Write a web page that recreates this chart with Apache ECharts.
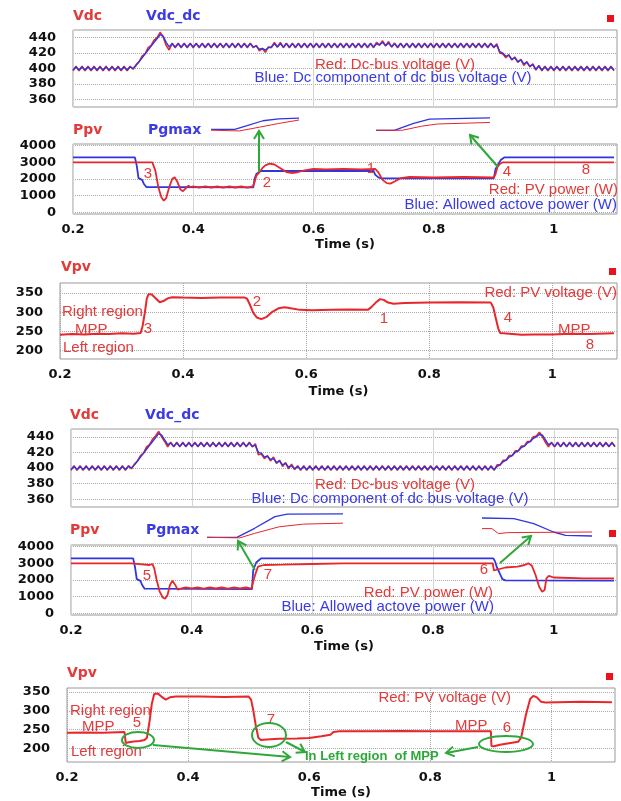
<!DOCTYPE html>
<html><head><meta charset="utf-8">
<script src="https://cdn.jsdelivr.net/npm/echarts@6/dist/echarts.min.js"></script>
<style>html,body{margin:0;padding:0;background:#fff}#c{width:621px;height:801px}</style>
</head><body><div id="c"></div>
<script>
// ---------- tick labels ----------
const xTicks = [0.2, 0.4, 0.6, 0.8, 1];
const vdcTicks = [360, 380, 400, 420, 440];
const ppvTicks = [0, 1000, 2000, 3000, 4000];
const vpvTicks = [200, 250, 300, 350];

// ---------- DC bus voltage samples (time, s) ----------
const vdcT = [
0.2,0.205,0.21,0.215,0.22,0.225,0.23,0.235,0.24,0.245,0.25,0.255,0.26,0.265,0.27,0.275,0.28,0.285,0.29,0.295,
0.3,0.305,0.31,0.315,0.32,0.325,0.33,0.335,0.34,0.345,0.35,0.355,0.36,0.365,0.37,0.375,0.38,0.385,0.39,0.395,
0.4,0.405,0.41,0.415,0.42,0.425,0.43,0.435,0.44,0.445,0.45,0.455,0.46,0.465,0.47,0.475,0.48,0.485,0.49,0.495,
0.5,0.505,0.51,0.515,0.52,0.525,0.53,0.535,0.54,0.545,0.55,0.555,0.56,0.565,0.57,0.575,0.58,0.585,0.59,0.595,
0.6,0.605,0.61,0.615,0.62,0.625,0.63,0.635,0.64,0.645,0.65,0.655,0.66,0.665,0.67,0.675,0.68,0.685,0.69,0.695,
0.7,0.705,0.71,0.715,0.72,0.725,0.73,0.735,0.74,0.745,0.75,0.755,0.76,0.765,0.77,0.775,0.78,0.785,0.79,0.795,
0.8,0.805,0.81,0.815,0.82,0.825,0.83,0.835,0.84,0.845,0.85,0.855,0.86,0.865,0.87,0.875,0.88,0.885,0.89,0.895,
0.9,0.905,0.91,0.915,0.92,0.925,0.93,0.935,0.94,0.945,0.95,0.955,0.96,0.965,0.97,0.975,0.98,0.985,0.99,0.995,
1,1.005,1.01,1.015,1.02,1.025,1.03,1.035,1.04,1.045,1.05,1.055,1.06,1.065,1.07,1.075,1.08,1.085,1.09,1.095,
1.1];
// upper figure
const vdc1Red = [
397,403,397,403,397,403,397,403,397,403,397,403,397,403,397,403,397,403,397,403,
399,405,409,416,419,427,430,437,440,447,441,430,424,433,427,433,427,433,427,433,
427,433,427,433,427,433,427,433,427,433,427,433,427,433,427,433,427,433,427,433,
427,430,423,426,421,428,427,434,428,434,427,433,427,433,427,433,427,433,427,433,
427,433,427,433,427,433,427,433,427,433,427,433,427,433,427,433,427,433,427,433,
427,434,430,436,429,435,428,433,427,433,427,433,427,433,427,433,427,433,427,433,
427,433,427,433,427,433,427,433,427,433,427,433,427,433,427,433,427,433,427,433,
427,432,420,419,414,418,411,415,408,412,404,409,402,406,398,404,397,403,397,403,
397,403,397,403,397,403,397,403,397,403,397,403,397,403,397,403,397,403,397,403,
397];
const vdc1Blue = [
398,402,398,402,398,402,398,402,398,402,398,402,398,402,398,402,398,402,398,402,
400,404,409,414,419,424,429,434,439,444,442,434,428,432,428,432,428,432,428,432,
428,432,428,432,428,432,428,432,428,432,428,432,428,432,428,432,428,432,428,432,
428,429,425,426,424,427,428,432,428,432,428,432,428,432,428,432,428,432,428,432,
428,432,428,432,428,432,428,432,428,432,428,432,428,432,428,432,428,432,428,432,
428,432,431,434,430,433,428,432,428,432,428,432,428,432,428,432,428,432,428,432,
428,432,428,432,428,432,428,432,428,432,428,432,428,432,428,432,428,432,428,432,
428,430,422,420,416,417,412,414,409,411,406,408,403,405,399,403,398,402,398,402,
398,402,398,402,398,402,398,402,398,402,398,402,398,402,398,402,398,402,398,402,
398];
// lower figure
const vdc2Red = [
397,403,397,403,397,403,397,403,397,403,397,403,397,403,397,403,397,403,397,403,
399,405,409,416,419,427,430,437,441,447,440,434,427,433,427,433,427,433,427,433,
427,433,427,433,427,433,427,433,427,433,427,433,427,433,427,433,427,433,427,433,
427,431,417,418,412,416,409,414,406,410,402,407,399,405,398,403,397,403,397,403,
397,403,397,403,397,403,397,403,397,403,397,403,397,403,397,403,397,403,397,403,
397,403,397,403,397,403,397,403,397,403,397,403,397,403,397,403,397,403,397,403,
397,403,397,403,397,403,397,403,397,403,397,403,397,403,397,403,397,403,397,403,
397,404,404,410,410,416,416,422,422,428,428,434,434,440,441,446,440,433,427,433,
427,433,427,433,427,433,427,433,427,433,427,433,427,433,427,433,427,433,427,433,
427];
const vdc2Blue = [
398,402,398,402,398,402,398,402,398,402,398,402,398,402,398,402,398,402,398,402,
400,404,409,414,419,424,429,434,439,444,442,436,430,432,428,432,428,432,428,432,
428,432,428,432,428,432,428,432,428,432,428,432,428,432,428,432,428,432,428,432,
428,429,420,419,414,415,411,412,407,409,404,406,401,403,399,402,398,402,398,402,
398,402,398,402,398,402,398,402,398,402,398,402,398,402,398,402,398,402,398,402,
398,402,398,402,398,402,398,402,398,402,398,402,398,402,398,402,398,402,398,402,
398,402,398,402,398,402,398,402,398,402,398,402,398,402,398,402,398,402,398,402,
398,402,404,408,410,414,416,420,422,426,428,432,434,438,440,443,442,436,430,432,
428,432,428,432,428,432,428,432,428,432,428,432,428,432,428,432,428,432,428,432,
428];

// ---------- PV power / allowed power [time, W] ----------
const ppv1Red = [[0.2,3000],[0.332,3000],[0.337,2500],[0.342,1500],[0.347,900],[0.351,700],[0.355,850],[0.36,1500],[0.365,2000],[0.369,2100],[0.374,1800],[0.379,1350],[0.383,1270],[0.388,1450],[0.392,1600],[0.396,1520],[0.4,1560],[0.41,1480],[0.42,1560],[0.43,1490],[0.44,1550],[0.45,1480],[0.46,1560],[0.47,1490],[0.48,1550],[0.49,1480],[0.499,1550],[0.502,1800],[0.505,2200],[0.51,2400],[0.515,2650],[0.52,2820],[0.527,2920],[0.535,2870],[0.545,2650],[0.555,2420],[0.565,2350],[0.575,2420],[0.585,2520],[0.6,2600],[0.62,2580],[0.65,2610],[0.68,2580],[0.703,2600],[0.708,2400],[0.715,1950],[0.722,1750],[0.728,1720],[0.735,1850],[0.745,2050],[0.76,2120],[0.8,2090],[0.85,2120],[0.9,2090],[0.903,2300],[0.906,2700],[0.91,2900],[0.915,3000],[1.1,3000]];
const ppv1Blue = [[0.2,3300],[0.303,3300],[0.306,2800],[0.309,2050],[0.315,1950],[0.318,1700],[0.322,1520],[0.5,1500],[0.502,2000],[0.505,2300],[0.512,2480],[0.7,2480],[0.703,2250],[0.708,2100],[0.713,2040],[0.9,2040],[0.903,2600],[0.907,2850],[0.912,3150],[0.918,3300],[1.1,3300]];
const ppv2Red = [[0.2,3000],[0.3,3000],[0.302,2900],[0.33,2900],[0.335,2950],[0.338,2700],[0.342,2000],[0.347,1300],[0.352,950],[0.356,880],[0.36,1100],[0.364,1700],[0.368,1950],[0.372,1750],[0.377,1420],[0.382,1480],[0.39,1560],[0.4,1500],[0.41,1550],[0.42,1480],[0.43,1560],[0.44,1490],[0.45,1550],[0.46,1480],[0.47,1560],[0.48,1490],[0.49,1550],[0.499,1480],[0.502,1900],[0.506,2400],[0.51,2800],[0.52,2900],[0.55,2920],[0.6,2960],[0.65,3000],[0.899,3000],[0.901,2570],[0.904,2680],[0.92,2750],[0.94,2800],[0.952,2900],[0.958,3000],[0.964,2850],[0.97,2300],[0.976,1600],[0.981,1300],[0.985,1400],[0.988,2100],[0.992,2250],[1,2150],[1.05,2100],[1.1,2100]];
const ppv2Blue = [[0.2,3300],[0.303,3300],[0.306,2800],[0.309,2050],[0.315,1950],[0.318,1700],[0.322,1480],[0.5,1450],[0.502,2600],[0.507,3050],[0.515,3300],[0.9,3300],[0.903,3100],[0.906,2750],[0.91,2450],[0.915,2050],[0.92,1980],[1.1,1960]];

// ---------- PV voltage [time, V] ----------
const vpv1 = [[0.2,241],[0.22,243],[0.24,242],[0.26,244],[0.28,243],[0.3,245],[0.32,244],[0.331,246],[0.334,262],[0.338,300],[0.341,335],[0.344,347],[0.349,346],[0.355,337],[0.362,326],[0.368,329],[0.375,336],[0.382,339],[0.4,338],[0.43,337],[0.46,338],[0.5,338],[0.504,335],[0.509,318],[0.514,298],[0.52,286],[0.527,282],[0.535,287],[0.545,301],[0.555,310],[0.565,313],[0.575,310],[0.59,306],[0.61,305],[0.64,306],[0.67,307],[0.7,306],[0.706,313],[0.713,325],[0.72,334],[0.726,332],[0.733,325],[0.742,322],[0.76,324],[0.8,325],[0.85,326],[0.9,325],[0.904,312],[0.908,285],[0.912,258],[0.915,246],[0.93,244],[0.95,241],[0.97,242],[1,242],[1.03,244],[1.06,243],[1.1,245]];
const vpv2 = [[0.2,241],[0.23,242],[0.26,241],[0.295,243],[0.297,214],[0.302,216],[0.31,218],[0.32,219],[0.328,222],[0.332,228],[0.336,268],[0.34,318],[0.344,345],[0.35,346],[0.356,338],[0.363,330],[0.37,336],[0.38,338],[0.42,338],[0.46,337],[0.5,338],[0.504,330],[0.508,298],[0.512,258],[0.516,228],[0.52,222],[0.53,223],[0.55,225],[0.58,226],[0.6,227],[0.62,232],[0.635,236],[0.64,243],[0.65,245],[0.7,245],[0.75,246],[0.8,245],[0.85,245],[0.9,245],[0.901,206],[0.905,205],[0.915,209],[0.93,213],[0.945,217],[0.95,228],[0.958,290],[0.965,332],[0.97,340],[0.976,336],[0.983,324],[0.99,322],[1.05,324],[1.1,323]];

// ---------- zoomed insets (local 0-100 units) ----------
const ins1Blue = [[0,17],[27,17],[41,42],[59,75],[77,87],[100,93]];
const ins1Red  = [[0,12],[32,7],[55,32],[77,57],[100,80]];
const ins2Blue = [[0,16],[16,16],[33,56],[47,82],[100,89]];
const ins2Red  = [[0,16],[23,16],[40,40],[54,53],[100,62]];
const ins3Blue = [[0,9],[22,9],[35,39],[50,78],[59,86],[100,87]];
const ins3Red  = [[0,9],[24,7],[35,22],[53,44],[71,53],[100,56]];
const ins4Blue = [[0,95],[29,92],[47,67],[65,25],[76,8],[100,5]];
const ins4Red  = [[0,42],[9,42],[15,17],[24,22],[100,25]];

// ---------- styles ----------
const RED = '#e8262b', BLUE = '#2f36e0', GREEN = '#2fa83a';
const TXTRED = '#e33a3a', TXTBLUE = '#3a3ae6';
const LBL = {color:'#111', fontWeight:'bold', fontSize:13, fontFamily:'DejaVu Sans'};

const grids = [
  {left:73, top:30, width:544, height:77},
  {left:73, top:144, width:544, height:70},
  {left:60, top:283, width:557, height:76},
  {left:71, top:429, width:547, height:78},
  {left:71, top:545, width:546, height:70},
  {left:67, top:688, width:548, height:74},
  {left:211, top:117, width:88, height:15},
  {left:376, top:116, width:114, height:17},
  {left:207, top:510, width:136, height:30},
  {left:482, top:517, width:110, height:20}
].map((g,i)=> i<6 ? Object.assign({show:true, borderColor:'#9a9a9a', borderWidth:1, backgroundColor:'#fff'}, g) : Object.assign({show:false}, g));

function xAx(gi, labels, dotted, gap){
  return {type:'value', gridIndex:gi, min:0.2, max:1.105,
    axisLine:{show:false}, axisTick:{show:false, customValues:xTicks},
    axisLabel:Object.assign({show:labels, customValues:xTicks, margin:9, formatter:v=>String(v)}, LBL),
    splitLine:{show:true, lineStyle:{color: dotted?'#a8a8a8':'#d4d4d4', type: dotted?'dotted':'solid', width:1}},
    name: labels?'Time (s)':'', nameLocation:'middle', nameGap:gap||25,
    nameTextStyle:{color:'#111', fontWeight:'bold', fontSize:13, fontFamily:'DejaVu Sans'}};
}
function yAx(gi, min, max, ticks){
  return {type:'value', gridIndex:gi, min:min, max:max,
    axisLine:{show:false}, axisTick:{show:false, customValues:ticks},
    axisLabel:Object.assign({customValues:ticks, margin:17, formatter:v=>String(v)}, LBL),
    splitLine:{show:true, lineStyle:{color:'#a8a8a8', type:'dotted', width:1}}};
}
function insX(gi){ return {type:'value', gridIndex:gi, min:0, max:100, show:false}; }
function insY(gi){ return {type:'value', gridIndex:gi, min:0, max:100, show:false}; }

const xAxes = [xAx(0,false,false), xAx(1,true,false,24), xAx(2,true,true,26), xAx(3,false,false), xAx(4,true,false,25), xAx(5,true,true,24),
  insX(6), insX(7), insX(8), insX(9)];
const yAxes = [yAx(0,350,450,vdcTicks), yAx(1,-100,4100,ppvTicks), yAx(2,178,376,vpvTicks),
  yAx(3,350,450,vdcTicks), yAx(4,-100,4100,ppvTicks), yAx(5,163,361,vpvTicks),
  insY(6), insY(7), insY(8), insY(9)];

const zip = (ts, vs) => ts.map((t,i)=>[t, vs[i]]);
function ln(idx, data, color, w){
  return {type:'line', xAxisIndex:idx, yAxisIndex:idx, data:data, showSymbol:false, symbol:'none',
    lineStyle:{color:color, width:w}, itemStyle:{color:color}, animation:false, silent:true};
}
const series = [
  ln(0, zip(vdcT, vdc1Red), RED, 1.6), ln(0, zip(vdcT, vdc1Blue), BLUE, 1.4),
  ln(1, ppv1Blue, BLUE, 1.8), ln(1, ppv1Red, RED, 1.8),
  ln(2, vpv1, RED, 2),
  ln(3, zip(vdcT, vdc2Red), RED, 1.6), ln(3, zip(vdcT, vdc2Blue), BLUE, 1.4),
  ln(4, ppv2Blue, BLUE, 1.8), ln(4, ppv2Red, RED, 1.8),
  ln(5, vpv2, RED, 2),
  ln(6, ins1Blue, BLUE, 1.3), ln(6, ins1Red, RED, 1),
  ln(7, ins2Blue, BLUE, 1.3), ln(7, ins2Red, RED, 1),
  ln(8, ins3Blue, BLUE, 1.3), ln(8, ins3Red, RED, 1),
  ln(9, ins4Blue, BLUE, 1.3), ln(9, ins4Red, RED, 1)
];

// ---------- annotations ----------
const F = '15px "Liberation Sans", Arial, sans-serif';
const FT = 'bold 14px "DejaVu Sans", Verdana, sans-serif';
function txt(x, y, s, color, font, align){
  return {type:'text', x:x, y:y, z:100, silent:true,
    style:{text:s, fill:color, font:font||F, align:align||'left', verticalAlign:'middle'}};
}
function sq(x, y){ return {type:'rect', z:100, shape:{x:x, y:y, width:7, height:7}, style:{fill:'#e8131b'}}; }
function arrow(x1, y1, x2, y2){
  const a = Math.atan2(y2-y1, x2-x1), L = 8, W = 5;
  const bx = x2 - L*Math.cos(a), by = y2 - L*Math.sin(a);
  return [
    {type:'line', z:100, shape:{x1:x1, y1:y1, x2:x2, y2:y2}, style:{stroke:GREEN, lineWidth:2}},
    {type:'polyline', z:100, shape:{points:[[bx + W*Math.sin(a), by - W*Math.cos(a)], [x2, y2], [bx - W*Math.sin(a), by + W*Math.cos(a)]]},
      style:{stroke:GREEN, lineWidth:2, fill:null}}
  ];
}
function ell(cx, cy, rx, ry){ return {type:'ellipse', z:100, shape:{cx:cx, cy:cy, rx:rx, ry:ry}, style:{stroke:GREEN, lineWidth:2, fill:null}}; }

const graphic = [
  // panel 1
  txt(73, 16, 'Vdc', TXTRED, FT), txt(146, 16, 'Vdc_dc', TXTBLUE, FT), sq(607, 15),
  txt(395, 65, 'Red: Dc-bus voltage (V)', TXTRED, F, 'center'),
  txt(393, 78, 'Blue: Dc component of dc bus voltage (V)', TXTBLUE, F, 'center'),
  // panel 2
  txt(73, 130, 'Ppv', TXTRED, FT), txt(148, 130, 'Pgmax', TXTBLUE, FT),
  txt(618, 190, 'Red: PV power (W)', TXTRED, F, 'right'),
  txt(617, 205, 'Blue: Allowed actove power (W)', TXTBLUE, F, 'right'),
  txt(148, 174, '3', TXTRED, F, 'center'), txt(267, 183, '2', TXTRED, F, 'center'),
  txt(371, 169, '1', TXTRED, F, 'center'), txt(507, 172, '4', TXTRED, F, 'center'),
  txt(586, 170, '8', TXTRED, F, 'center'),
  ...arrow(259, 172, 259, 131), ...arrow(498, 167, 470, 135),
  // panel 3
  txt(61, 267, 'Vpv', TXTRED, FT), sq(609, 268),
  txt(617, 293, 'Red: PV voltage (V)', TXTRED, F, 'right'),
  txt(62, 312, 'Right region', TXTRED), txt(75, 330, 'MPP', TXTRED), txt(63, 348, 'Left region', TXTRED),
  txt(148, 329, '3', TXTRED, F, 'center'), txt(257, 302, '2', TXTRED, F, 'center'),
  txt(384, 319, '1', TXTRED, F, 'center'), txt(508, 318, '4', TXTRED, F, 'center'),
  txt(558, 330, 'MPP', TXTRED), txt(590, 345, '8', TXTRED, F, 'center'),
  // panel 4
  txt(70, 415, 'Vdc', TXTRED, FT), txt(145, 415, 'Vdc_dc', TXTBLUE, FT),
  txt(395, 485, 'Red: Dc-bus voltage (V)', TXTRED, F, 'center'),
  txt(390, 499, 'Blue: Dc component of dc bus voltage (V)', TXTBLUE, F, 'center'),
  // panel 5
  txt(70, 530, 'Ppv', TXTRED, FT), txt(146, 530, 'Pgmax', TXTBLUE, FT), sq(609, 530),
  txt(493, 593, 'Red: PV power (W)', TXTRED, F, 'right'),
  txt(494, 607, 'Blue: Allowed actove power (W)', TXTBLUE, F, 'right'),
  txt(147, 576, '5', TXTRED, F, 'center'), txt(268, 575, '7', TXTRED, F, 'center'),
  txt(484, 570, '6', TXTRED, F, 'center'),
  ...arrow(255, 570, 238, 541), ...arrow(500, 563, 531, 536),
  // panel 6
  txt(67, 673, 'Vpv', TXTRED, FT), sq(606, 673),
  txt(511, 698, 'Red: PV voltage (V)', TXTRED, F, 'right'),
  txt(70, 711, 'Right region', TXTRED), txt(82, 727, 'MPP', TXTRED), txt(71, 752, 'Left region', TXTRED),
  txt(137, 723, '5', TXTRED, F, 'center'), txt(271, 720, '7', TXTRED, F, 'center'),
  txt(455, 726, 'MPP', TXTRED), txt(507, 728, '6', TXTRED, F, 'center'),
  ell(138, 740, 16, 8), ell(269, 735, 17, 12), ell(506, 744, 27, 8),
  ...arrow(153, 745, 290, 757), ...arrow(286, 742, 305, 752), ...arrow(478, 747, 446, 753),
  txt(305, 756, 'In Left region  of MPP', GREEN, 'bold 13px "Liberation Sans", Arial, sans-serif')
];

const chart = echarts.init(document.getElementById('c'), null, {renderer:'canvas'});
chart.setOption({
  backgroundColor:'#fff', animation:false,
  grid: grids, xAxis: xAxes, yAxis: yAxes, series: series, graphic: graphic
});
</script></body></html>
